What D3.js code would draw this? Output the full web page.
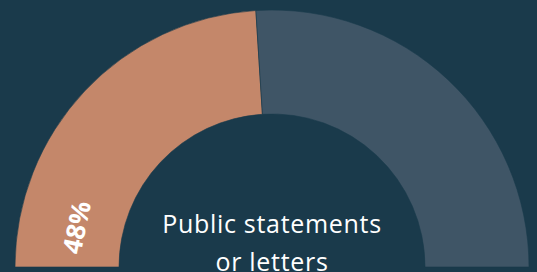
<!DOCTYPE html>
<html>
<head>
    <meta charset="UTF-8">
    <title>Gauge</title>
    <script src="https://cdn.jsdelivr.net/npm/d3@7"></script>
    <style>
        html, body {
            margin: 0;
            padding: 0;
            background: #1a3a4b;
            overflow: hidden;
        }
    </style>
</head>
<body>
<svg id="chart" width="537" height="272"></svg>
<script>

    // Data
    var categories = ["Public statements or letters", "Other"];
    var values = [48, 52];
    var colors = ["#c4876a", "#3f5566"];
    var titleLines = ["Public statements", "or letters"];

    var width = 537, height = 272;
    var cx = 272, cy = 267;
    var outerR = 257, innerR = 153;

    var svg = d3.select("#chart");
    var g = svg.append("g").attr("transform", "translate(" + cx + "," + cy + ")");

    var pie = d3.pie()
        .sort(null)
        .startAngle(-Math.PI / 2)
        .endAngle(Math.PI / 2);

    var arc = d3.arc().innerRadius(innerR).outerRadius(outerR);

    var arcs = pie(values);

    g.selectAll("path.slice")
        .data(arcs)
        .enter().append("path")
        .attr("class", "slice")
        .attr("d", arc)
        .attr("fill", function (d, i) { return colors[i]; })
        .attr("stroke", "#1a3a4b")
        .attr("stroke-width", 0.6);

    // Percent label, placed near the start of the first slice and turned along the arc
    var first = arcs[0];
    var labelAngle = first.startAngle + 0.2;  // radians
    var labelR = (innerR + outerR) / 2 - 5;
    var lx = labelR * Math.sin(labelAngle),
        ly = -labelR * Math.cos(labelAngle);
    var deg = labelAngle * 180 / Math.PI;

    g.append("text")
        .attr("transform", "translate(" + lx + "," + ly + ") rotate(" + deg + ")")
        .attr("text-anchor", "middle")
        .attr("dominant-baseline", "central")
        .attr("fill", "#ffffff")
        .style("font-family", "'Open Sans', Lato, sans-serif")
        .style("font-weight", "bold")
        .style("font-size", "26px")
        .text(values[0] + "%");

    // Category title in the middle
    var title = svg.append("text")
        .attr("x", cx)
        .attr("y", 233)
        .attr("text-anchor", "middle")
        .attr("fill", "#ffffff")
        .style("font-family", "'Open Sans', Lato, sans-serif")
        .style("font-size", "25px")
        .style("letter-spacing", "0.7px");

    title.selectAll("tspan")
        .data(titleLines)
        .enter().append("tspan")
        .attr("x", cx)
        .attr("dy", function (d, i) { return i === 0 ? 0 : 38; })
        .text(function (d) { return d; });

</script>
</body>
</html>
